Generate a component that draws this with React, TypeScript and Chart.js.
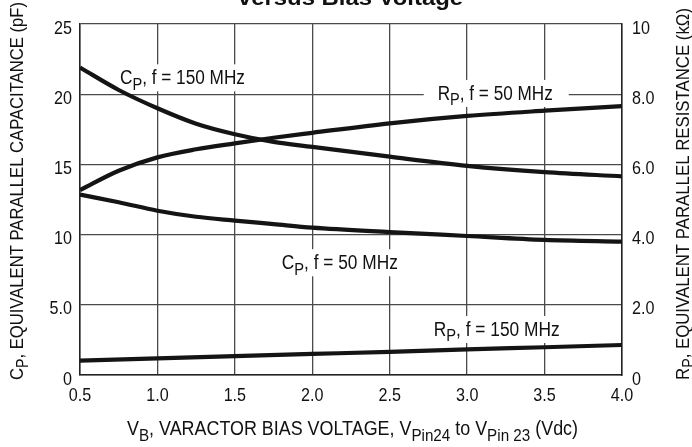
import React, { useEffect, useRef } from 'react';
import { Chart, registerables } from 'chart.js';

Chart.register(...registerables);

// Bias voltage samples (Vdc)
const vFine = [0.5, 0.75, 1.0, 1.25, 1.5, 1.75, 2.0, 2.5, 3.0, 3.5, 4.0];
const vHalf = [0.5, 1.0, 1.5, 2.0, 2.5, 3.0, 3.5, 4.0];

// Cp (pF) – left axis
const cp150MHz = [21.9, 20.3, 19.0, 17.9, 17.15, 16.6, 16.25, 15.55, 14.9, 14.45, 14.15];
const cp50MHz = [12.85, 12.3, 11.7, 11.27, 11.0, 10.75, 10.5, 10.18, 9.9, 9.62, 9.5];
// Rp (kΩ) – right axis
const rp50MHz = [5.27, 5.82, 6.2, 6.43, 6.6, 6.76, 6.9, 7.17, 7.38, 7.53, 7.66];
const rp150MHz = [0.41, 0.475, 0.54, 0.6, 0.66, 0.73, 0.79, 0.855];

const xTickLabels = ['0.5', '1.0', '1.5', '2.0', '2.5', '3.0', '3.5', '4.0'];
const cpTickLabels = ['0', '5.0', '10', '15', '20', '25'];
const rpTickLabels = ['0', '2.0', '4.0', '6.0', '8.0', '10'];

const FAMILY = "'Liberation Sans Narrow', 'Arial Narrow', 'Liberation Sans', Arial, sans-serif";
const WIDE = "'Liberation Sans', Arial, Helvetica, sans-serif";
const NARROW = 0.85;

type Seg = { t: string; sub?: boolean };

function richWidth(ctx: CanvasRenderingContext2D, segs: Seg[], size: number, family: string, weight: string) {
  let w = 0;
  for (const s of segs) {
    ctx.font = `${weight} ${s.sub ? size * 0.85 : size}px ${family}`;
    w += ctx.measureText(s.t).width;
  }
  return w;
}

function drawRich(
  ctx: CanvasRenderingContext2D,
  segs: Seg[],
  x: number,
  y: number,
  size: number,
  family: string,
  weight: string,
  targetWidth: number,
  align: 'left' | 'center' | 'right',
  rotate = 0
) {
  const w = richWidth(ctx, segs, size, family, weight);
  const sc = targetWidth > 0 ? targetWidth / w : NARROW;
  ctx.save();
  ctx.translate(x, y);
  if (rotate) ctx.rotate(rotate);
  ctx.scale(sc, 1);
  ctx.fillStyle = '#111';
  ctx.textBaseline = 'alphabetic';
  ctx.textAlign = 'left';
  let cx = align === 'center' ? -w / 2 : align === 'right' ? -w : 0;
  for (const s of segs) {
    ctx.font = `${weight} ${s.sub ? size * 0.85 : size}px ${family}`;
    ctx.fillText(s.t, cx, s.sub ? size * 0.28 : 0);
    cx += ctx.measureText(s.t).width;
  }
  ctx.restore();
}

// curve labels: position in data units (x: V, y: pF baseline), target width px
const curveLabels: { segs: Seg[]; x: number; y: number; w: number }[] = [
  { segs: [{ t: 'C' }, { t: 'P', sub: true }, { t: ', f = 150 MHz' }], x: 0.758, y: 20.7, w: 125 },
  { segs: [{ t: 'R' }, { t: 'P', sub: true }, { t: ', f = 50 MHz' }], x: 2.81, y: 19.59, w: 115 },
  { segs: [{ t: 'C' }, { t: 'P', sub: true }, { t: ', f = 50 MHz' }], x: 1.803, y: 7.53, w: 116 },
  { segs: [{ t: 'R' }, { t: 'P', sub: true }, { t: ', f = 150 MHz' }], x: 2.784, y: 2.78, w: 126 },
];

const LABEL_SIZE = 19.5;
const TICK_SIZE = 19;

const textPlugin = {
  id: 'textPlugin',
  beforeDatasetsDraw(chart: any) {
    const ctx = chart.ctx as CanvasRenderingContext2D;
    const xs = chart.scales.x;
    const ys = chart.scales.y;
    ctx.save();
    ctx.fillStyle = '#fff';
    for (const l of curveLabels) {
      const px = xs.getPixelForValue(l.x);
      const py = ys.getPixelForValue(l.y);
      const capH = LABEL_SIZE * 0.72;
      ctx.fillRect(px - 14, py - capH - 6, l.w + 30, capH + 13);
    }
    ctx.restore();
  },
  afterDatasetsDraw(chart: any) {
    const ctx = chart.ctx as CanvasRenderingContext2D;
    const xs = chart.scales.x;
    const ys = chart.scales.y;
    const ys1 = chart.scales.y1;
    // tick labels (narrow face) at the library's tick positions
    xs.ticks.forEach((t: any, i: number) => {
      drawRich(ctx, [{ t: xTickLabels[i] ?? '' }], xs.getPixelForValue(t.value), xs.top + 26, TICK_SIZE, WIDE, 'normal', 0, 'center');
    });
    ys.ticks.forEach((t: any, i: number) => {
      drawRich(ctx, [{ t: cpTickLabels[i] ?? '' }], ys.right - 8, ys.getPixelForValue(t.value) + 9.5, TICK_SIZE, WIDE, 'normal', 0, 'right');
    });
    ys1.ticks.forEach((t: any, i: number) => {
      drawRich(ctx, [{ t: rpTickLabels[i] ?? '' }], ys1.left + 10, ys1.getPixelForValue(t.value) + 9.5, TICK_SIZE, WIDE, 'normal', 0, 'left');
    });
    for (const l of curveLabels) {
      drawRich(ctx, l.segs, xs.getPixelForValue(l.x), ys.getPixelForValue(l.y), LABEL_SIZE, FAMILY, 'normal', l.w, 'left');
    }
    // title (partially cut at top)
    drawRich(ctx, [{ t: 'versus Bias Voltage' }], 350.5, 5, 22, WIDE, 'bold', 225, 'center');
    // x axis title
    drawRich(
      ctx,
      [
        { t: 'V' },
        { t: 'B', sub: true },
        { t: ', VARACTOR BIAS VOLTAGE, V' },
        { t: 'Pin24', sub: true },
        { t: ' to V' },
        { t: 'Pin 23', sub: true },
        { t: ' (Vdc)' },
      ],
      352.5,
      435,
      20,
      FAMILY,
      'normal',
      451,
      'center'
    );
    // left axis title
    drawRich(
      ctx,
      [{ t: 'C' }, { t: 'P', sub: true }, { t: ', EQUIVALENT PARALLEL CAPACITANCE (pF)' }],
      23,
      380,
      18.5,
      FAMILY,
      'normal',
      378,
      'left',
      -Math.PI / 2
    );
    // right axis title
    drawRich(
      ctx,
      [{ t: 'R' }, { t: 'P', sub: true }, { t: ', EQUIVALENT PARALLEL RESISTANCE (k\u03A9)' }],
      689,
      380,
      18.5,
      FAMILY,
      'normal',
      372,
      'left',
      -Math.PI / 2
    );
  },
};

export default function App() {
  const ref = useRef<HTMLCanvasElement | null>(null);
  useEffect(() => {
    if (!ref.current) return;
    const hiddenTicks = { family: WIDE, size: TICK_SIZE };
    const line = (xs: number[], ys: number[], axis: string) => ({
      data: xs.map((x, i) => ({ x, y: ys[i] })),
      yAxisID: axis,
      borderColor: '#141414',
      borderWidth: 4.2,
      pointRadius: 0,
      cubicInterpolationMode: 'monotone' as const,
      fill: false,
    });
    const chart = new Chart(ref.current, {
      type: 'line',
      data: {
        datasets: [
          line(vFine, cp150MHz, 'y'),
          line(vFine, cp50MHz, 'y'),
          line(vFine, rp50MHz, 'y1'),
          line(vHalf, rp150MHz, 'y1'),
        ],
      },
      options: {
        animation: false,
        responsive: false,
        maintainAspectRatio: false,
        layout: { padding: { top: 24, left: 0, right: 0, bottom: 0 } },
        plugins: { legend: { display: false }, tooltip: { enabled: false }, title: { display: false } },
        scales: {
          x: {
            type: 'linear',
            min: 0.5,
            max: 4.0,
            ticks: {
              stepSize: 0.5,
              color: 'rgba(0,0,0,0)',
              font: hiddenTicks,
              padding: 8,
              maxRotation: 0,
              callback: (v: any) => xTickLabels[Math.round((Number(v) - 0.5) / 0.5)] ?? '',
            },
            grid: { color: '#4a4a4a', lineWidth: 1.3, drawTicks: false },
            border: { color: '#222', width: 1.5 },
            afterFit: (s: any) => {
              s.height = 72;
            },
          },
          y: {
            position: 'left',
            min: 0,
            max: 25,
            ticks: {
              stepSize: 5,
              color: 'rgba(0,0,0,0)',
              font: hiddenTicks,
              padding: 8,
              callback: (v: any) => cpTickLabels[Math.round(Number(v) / 5)] ?? '',
            },
            grid: { color: '#4a4a4a', lineWidth: 1.3, drawTicks: false },
            border: { color: '#222', width: 1.5 },
            afterFit: (s: any) => {
              s.width = 80;
            },
          },
          y1: {
            position: 'right',
            min: 0,
            max: 10,
            ticks: {
              stepSize: 2,
              color: 'rgba(0,0,0,0)',
              font: hiddenTicks,
              padding: 9,
              callback: (v: any) => rpTickLabels[Math.round(Number(v) / 2)] ?? '',
            },
            grid: { display: false, drawTicks: false },
            border: { color: '#222', width: 1.5 },
            afterFit: (s: any) => {
              s.width = 70;
            },
          },
        },
      },
      plugins: [textPlugin],
    } as any);
    return () => chart.destroy();
  }, []);
  return (
    <div style={{ position: 'absolute', left: 0, top: 0, width: 692, height: 447, background: '#fff' }}>
      <canvas ref={ref} width={692} height={447} style={{ display: 'block', width: 692, height: 447 }} />
    </div>
  );
}
